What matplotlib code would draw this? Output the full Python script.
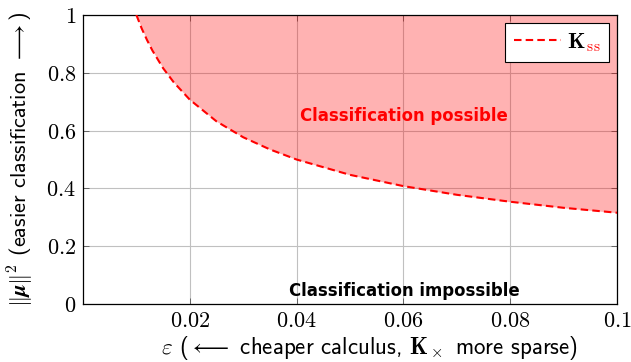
import matplotlib
matplotlib.use("Agg")
import matplotlib.pyplot as plt
from matplotlib.offsetbox import TextArea, HPacker

plt.rcParams['mathtext.fontset'] = 'cm'
plt.rcParams['axes.unicode_minus'] = False

eps = [0.010, 0.011, 0.012, 0.013, 0.015, 0.017, 0.020, 0.025, 0.030, 0.035,
       0.040, 0.050, 0.060, 0.070, 0.080, 0.090, 0.100]
mu2 = [1.000, 0.953, 0.913, 0.877, 0.816, 0.767, 0.707, 0.632, 0.577, 0.535,
       0.500, 0.447, 0.408, 0.378, 0.354, 0.333, 0.316]

xticks = [0.02, 0.04, 0.06, 0.08, 0.1]
xticklabels = ['0.02', '0.04', '0.06', '0.08', '0.1']
yticks = [0, 0.2, 0.4, 0.6, 0.8, 1]
yticklabels = ['0', '0.2', '0.4', '0.6', '0.8', '1']

fig = plt.figure(figsize=(6.31, 3.62), dpi=100)
ax = fig.add_axes([0.1315, 0.160, 0.8465, 0.7986])

ax.set_xlim(0, 0.1)
ax.set_ylim(0, 1)
ax.set_xticks(xticks)
ax.set_xticklabels(['$' + t + '$' for t in xticklabels])
ax.set_yticks(yticks)
ax.set_yticklabels(['$' + t + '$' for t in yticklabels])
ax.tick_params(direction='in', top=True, right=True, length=4, width=0.6,
               color='#555555', labelsize=16, pad=5)
ax.grid(True, color='#c0c0c0', linewidth=0.8)
ax.set_axisbelow(True)
for s in ax.spines.values():
    s.set_linewidth(0.9)

ax.fill_between(eps, mu2, 1, color='red', alpha=0.3, linewidth=0, zorder=2)
ax.plot(eps, mu2, color='red', linestyle=(0, (3.6, 2.0)), linewidth=1.5,
        label=r'$\mathbf{K}$', zorder=3)

ax.text(0.0601, 0.65, 'Classification possible', color='red', fontsize=11.9,
        fontweight='bold', ha='center', va='center', family='DejaVu Sans')
ax.text(0.0601, 0.045, 'Classification impossible', color='black', fontsize=11.9,
        fontweight='bold', ha='center', va='center', family='DejaVu Sans')

leg = ax.legend(loc='upper right', fontsize=16, frameon=True, fancybox=False,
                edgecolor='black', framealpha=1, handlelength=2.1,
                borderaxespad=0.35, borderpad=0.4, handletextpad=0.3)
leg.get_frame().set_linewidth(0.8)

# append a red subscript "ss" to the legend label (K black, ss red)
item = leg._legend_handle_box.get_children()[0].get_children()[0]
da, ta = item.get_children()
ss = TextArea(r'${}_{\mathrm{ss}}$', textprops=dict(color='red', fontsize=16))
inner = HPacker(children=[ta, ss], pad=0, sep=0, align='baseline')
ss.set_figure(fig)
inner.set_figure(fig)
item._children = [da, inner]

ax.set_xlabel(r'$\varepsilon$ ($\longleftarrow$ cheaper calculus, $\mathbf{K}_\times$ more sparse)',
              fontsize=16.5, family='cmss10')
ax.xaxis.set_label_coords(0.537, -0.105)
ax.set_ylabel(r'$\|\boldsymbol{\mu}\|^2$ (easier classification $\longrightarrow$)',
              fontsize=16, family='cmss10')
ax.yaxis.set_label_coords(-0.088, 0.5)

fig.savefig('out.png', dpi=100)
